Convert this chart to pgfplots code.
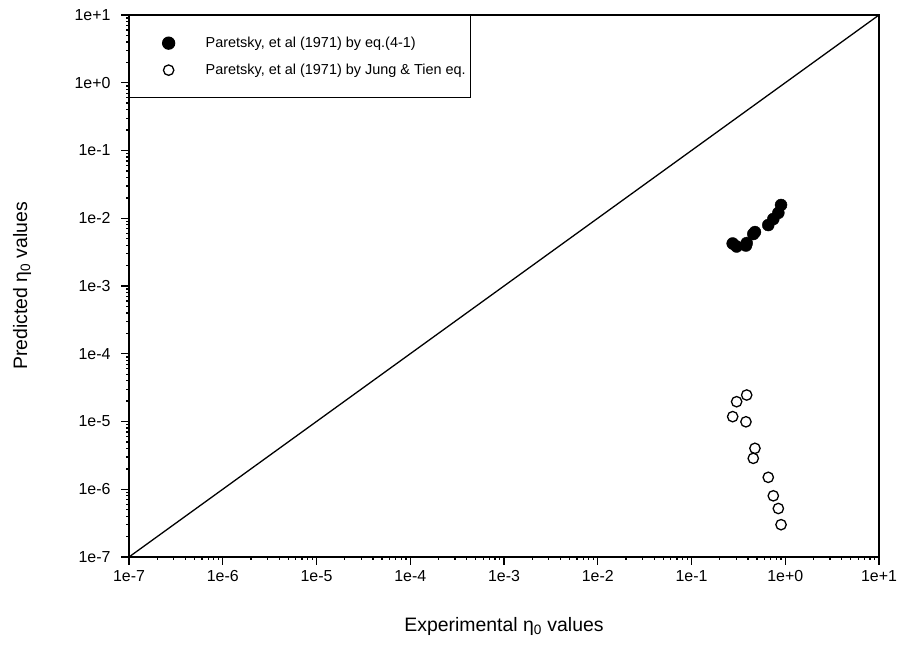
\documentclass[border=0pt]{standalone}
\usepackage{fontspec}
\setmainfont{Liberation Sans}
\usepackage{pgfplots}
\pgfplotsset{compat=1.18}
\begin{document}
\begin{tikzpicture}
\begin{axis}[
  scale only axis,
  width=750bp, height=542bp,
  xmode=log, ymode=log,
  xmin=1e-7, xmax=1e1, ymin=1e-7, ymax=1e1,
  xtick={1e-7,1e-6,1e-5,1e-4,1e-3,1e-2,1e-1,1e0,1e1},
  ytick={1e-7,1e-6,1e-5,1e-4,1e-3,1e-2,1e-1,1e0,1e1},
  xticklabels={1e-7,1e-6,1e-5,1e-4,1e-3,1e-2,1e-1,1e+0,1e+1},
  yticklabels={1e-7,1e-6,1e-5,1e-4,1e-3,1e-2,1e-1,1e+0,1e+1},
  minor xtick={}, minor ytick={},
  xtick pos=bottom, ytick pos=left,
  tick align=outside,
  major tick length=8bp,
  axis line style={line width=1.3bp},
  every tick/.style={line width=1.3bp, black},
  xticklabel style={font=\fontsize{16}{18}\selectfont, yshift=-2bp},
  yticklabel style={font=\fontsize{16}{18}\selectfont, xshift=-7bp},
  xlabel={Experimental η\textsubscript{0} values},
  ylabel={Predicted η\textsubscript{0} values},
  every axis x label/.style={at={(axis description cs:0.5,0)}, anchor=center, yshift=-69bp, font=\fontsize{19.5}{22}\selectfont},
  every axis y label/.style={at={(axis description cs:0,0.5)}, anchor=center, rotate=90, yshift=107bp, font=\fontsize{19.5}{22}\selectfont},
  legend style={at={(0,1)}, anchor=north west, draw=black, line width=1.3bp,
    inner xsep=0pt, inner ysep=14bp, row sep=0pt,
    font=\fontsize{14.5}{17}\selectfont,
    nodes={inner ysep=0pt, inner xsep=5bp}},
  legend cell align=left,
  legend image code/.code={\path[draw=none, fill=none] (0bp,-13.5bp) rectangle (71bp,13.5bp); \draw[#1] plot coordinates {(39bp,0bp)};},
]
\coordinate (A) at (rel axis cs:0,0);
\addplot[only marks, mark=*, mark size=6bp, draw=black, fill=black] coordinates {
(0.275,4.24e-3) (0.303,3.83e-3) (0.381,3.96e-3) (0.388,4.3e-3)
(0.456,5.85e-3) (0.475,6.25e-3) (0.659,7.94e-3) (0.746,9.75e-3)
(0.844,1.20e-2) (0.902,1.57e-2)};
\addlegendentry{Paretsky, et al (1971) by eq.(4-1)}
\addplot[only marks, mark=o, mark size=5.2bp, mark options={line width=1.3bp}, draw=black] coordinates {
(0.388,2.46e-5) (0.303,1.96e-5) (0.275,1.18e-5) (0.381,9.9e-6)
(0.475,4.02e-6) (0.456,2.86e-6) (0.659,1.50e-6) (0.746,8.0e-7)
(0.844,5.2e-7) (0.902,3.0e-7)};
\addlegendentry{Paretsky, et al (1971) by Jung \& Tien eq.}
\addplot[no marks, black, line width=1.3bp, forget plot] coordinates {(1e-7,1e-7) (1e1,1e1)};
\end{axis}
\pgfresetboundingbox
\path ([shift={(-129bp,-100bp)}]A) rectangle ([shift={(780bp,557bp)}]A);
\end{tikzpicture}
\end{document}
